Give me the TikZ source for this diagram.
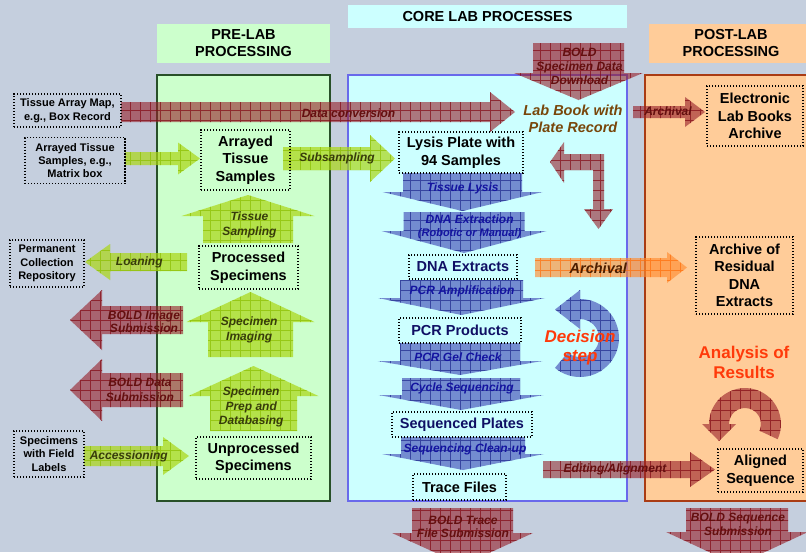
\documentclass[tikz,border=0pt]{standalone}
\usepackage{fontspec}
\setmainfont{Liberation Sans}
\usetikzlibrary{calc}

% palette
\definecolor{bg}{RGB}{197,207,222}
\definecolor{prefill}{RGB}{204,255,204}
\definecolor{corefill}{RGB}{204,255,255}
\definecolor{postfill}{RGB}{255,204,153}
\definecolor{preedge}{RGB}{40,80,40}
\definecolor{coreedge}{RGB}{105,105,235}
\definecolor{postedge}{RGB}{170,60,20}
\definecolor{redfill}{RGB}{150,30,40}
\definecolor{redline}{RGB}{130,10,20}
\definecolor{greenfill}{RGB}{170,215,20}
\definecolor{greenline}{RGB}{140,190,0}
\definecolor{bluefill}{RGB}{100,120,200}
\definecolor{blueline}{RGB}{30,40,140}
\definecolor{orangefill}{RGB}{255,140,50}
\definecolor{orangeline}{RGB}{255,110,10}
\definecolor{redtxt}{RGB}{100,15,15}
\definecolor{greentxt}{RGB}{55,60,10}
\definecolor{bluetxt}{RGB}{20,20,160}
\definecolor{navytxt}{RGB}{15,15,100}
\definecolor{booktxt}{RGB}{120,70,10}
\definecolor{browntxt}{RGB}{75,30,0}
\definecolor{hot}{RGB}{255,58,10}

% block arrow: style, tail, tip, half body width, half head width, head length
\newcommand\blockarrow[6]{%
  \coordinate (bam) at ($(#3)!#6!(#2)$);
  \path[#1] ($(#2)!#4!90:(#3)$) -- ($(bam)!#4!-90:(#2)$) -- ($(bam)!#5!-90:(#2)$) -- (#3)
    -- ($(bam)!#5!90:(#2)$) -- ($(bam)!#4!90:(#2)$) -- ($(#2)!#4!-90:(#3)$) -- cycle;}

\tikzset{
  gridfill/.style n args={3}{fill=#1, fill opacity=#3,
    path picture={\draw[#2, draw opacity=0.7, line width=0.6pt]
      (path picture bounding box.south west) grid[step=10pt] (path picture bounding box.north east);}},
  redarrow/.style={gridfill={redfill}{redline}{0.6}},
  greenarrow/.style={gridfill={greenfill}{greenline}{0.7}},
  bluearrow/.style={gridfill={bluefill}{blueline}{0.85}},
  orangearrow/.style={gridfill={orangefill}{orangeline}{0.65}},
  hdr/.style={align=center, inner sep=0pt, font=\bfseries\fontsize{14.5}{17}\selectfont},
  panel/.style={line width=1.3pt, inner sep=0pt},
  nb/.style={draw=black, line width=1.4pt, dash pattern=on 1.4pt off 1.6pt, align=center,
    inner sep=0pt, font=\bfseries\fontsize{14.5}{17.5}\selectfont},
  nbs/.style={nb, font=\bfseries\fontsize{11}{13.4}\selectfont},
  lbl/.style={align=center, inner sep=0pt, font=\bfseries\itshape\fontsize{12}{14.5}\selectfont},
  redlbl/.style={lbl, text=redtxt},
  greenlbl/.style={lbl, text=greentxt},
  bluelbl/.style={lbl, text=bluetxt},
}

\begin{document}
\begin{tikzpicture}[x=1pt,y=-1pt]
\useasboundingbox (0,0) rectangle (806,552);
\clip (0,0) rectangle (806,552);
\fill[bg] (0,0) rectangle (806,552);

% column headers
\node[hdr, fill=prefill, minimum width=173pt, minimum height=39pt] (prehdr) at (243.5,43.5) {PRE-LAB\\PROCESSING};
\node[hdr, fill=corefill, minimum width=279pt, minimum height=23pt] (corehdr) at (487.5,16.5) {CORE LAB PROCESSES};
\node[hdr, fill=postfill, minimum width=164pt, minimum height=39pt] (posthdr) at (731,43.5) {POST-LAB\\PROCESSING};

% column panels
\node[panel, draw=preedge, fill=prefill, minimum width=173pt, minimum height=426pt] (prepanel) at (243.5,288) {};
\node[panel, draw=coreedge, fill=corefill, minimum width=279pt, minimum height=426pt] (corepanel) at (487.5,288) {};
\node[panel, draw=postedge, fill=postfill, minimum width=172pt, minimum height=426pt] (postpanel) at (731,288) {};

% arrow end points
\coordinate (dc-a) at (121,112);   \coordinate (dc-b) at (515,112);
\coordinate (bsd-a) at (578.5,43); \coordinate (bsd-b) at (578.5,100);
\coordinate (ar1-a) at (633,112);  \coordinate (ar1-b) at (705,112);
\coordinate (bis-a) at (183,320);  \coordinate (bis-b) at (70,320);
\coordinate (bds-a) at (183,390);  \coordinate (bds-b) at (70,390);
\coordinate (ed-a) at (543,469.5); \coordinate (ed-b) at (715,469.5);
\coordinate (btf-a) at (462.5,508); \coordinate (btf-b) at (462.5,565);
\coordinate (bss-a) at (737,508);  \coordinate (bss-b) at (737,565);
\coordinate (arr-a) at (125,158.5); \coordinate (arr-b) at (200,158.5);
\coordinate (sub-a) at (283,158.5); \coordinate (sub-b) at (395,158.5);
\coordinate (ts-a) at (248,243);   \coordinate (ts-b) at (248,195);
\coordinate (lo-a) at (187,262);   \coordinate (lo-b) at (85,262);
\coordinate (si-a) at (250.5,357); \coordinate (si-b) at (250.5,292);
\coordinate (sp-a) at (253.5,431); \coordinate (sp-b) at (253.5,366);
\coordinate (ac-a) at (84,456);    \coordinate (ac-b) at (189,456);
\coordinate (tl-a) at (462.5,173); \coordinate (tl-b) at (462.5,211);
\coordinate (dx-a) at (464,212);   \coordinate (dx-b) at (464,253);
\coordinate (pa-a) at (461.5,280); \coordinate (pa-b) at (461.5,315);
\coordinate (gc-a) at (460,343);   \coordinate (gc-b) at (460,375);
\coordinate (cs-a) at (461,378);   \coordinate (cs-b) at (461,410);
\coordinate (sc-a) at (463,437);   \coordinate (sc-b) at (463,470);
\coordinate (ar2-a) at (535,267.5); \coordinate (ar2-b) at (687,267.5);

% data flow arrows (red)
\blockarrow{redarrow}{dc-a}{dc-b}{10pt}{20pt}{25pt}
\blockarrow{redarrow}{bsd-a}{bsd-b}{45.5pt}{64.5pt}{27pt}
\blockarrow{redarrow}{ar1-a}{ar1-b}{6pt}{15pt}{20pt}
\blockarrow{redarrow}{bis-a}{bis-b}{14pt}{30pt}{32pt}
\blockarrow{redarrow}{bds-a}{bds-b}{17pt}{31pt}{32pt}
\blockarrow{redarrow}{ed-a}{ed-b}{8.5pt}{17.5pt}{25pt}
\blockarrow{redarrow}{btf-a}{btf-b}{50.5pt}{70.5pt}{32pt}
\blockarrow{redarrow}{bss-a}{bss-b}{51pt}{71pt}{33pt}
% plate record exchange (bent arrow)
\path[redarrow] (550,162) -- (564,142) -- (564,154) -- (604,154) -- (604,209) -- (613,209)
  -- (598.5,229) -- (584,209) -- (593,209) -- (593,170) -- (564,170) -- (564,183) -- cycle;
% analysis loop
\path[redarrow] (745,424) ++(25:36) arc[start angle=25, end angle=-180, radius=36]
  -- (702,424) -- (719,441) -- (736,424) -- (729,424)
  arc[start angle=-180, end angle=25, radius=16] -- cycle;

% specimen handling arrows (green)
\blockarrow{greenarrow}{arr-a}{arr-b}{6.5pt}{16pt}{22pt}
\blockarrow{greenarrow}{sub-a}{sub-b}{11.5pt}{23.5pt}{25pt}
\blockarrow{greenarrow}{ts-a}{ts-b}{45pt}{66.5pt}{21pt}
\blockarrow{greenarrow}{lo-a}{lo-b}{9pt}{18pt}{25pt}
\blockarrow{greenarrow}{si-a}{si-b}{42.5pt}{64pt}{30pt}
\blockarrow{greenarrow}{sp-a}{sp-b}{43.5pt}{65pt}{30pt}
\blockarrow{greenarrow}{ac-a}{ac-b}{10pt}{19pt}{26pt}

% lab steps (blue)
\blockarrow{bluearrow}{tl-a}{tl-b}{59.5pt}{80pt}{19pt}
\blockarrow{bluearrow}{dx-a}{dx-b}{60.5pt}{82.5pt}{22pt}
\blockarrow{bluearrow}{pa-a}{pa-b}{61.5pt}{83.5pt}{17pt}
\blockarrow{bluearrow}{gc-a}{gc-b}{60pt}{82.5pt}{14pt}
\blockarrow{bluearrow}{cs-a}{cs-b}{59pt}{82.5pt}{15pt}
\blockarrow{bluearrow}{sc-a}{sc-b}{62pt}{81pt}{16pt}
% decision loop
\path[bluearrow] (580,338) ++(130:39) arc[start angle=130, end angle=-90, radius=39]
  -- (580,290) -- (555,309.5) -- (580,329) -- (580,319)
  arc[start angle=-90, end angle=130, radius=19] -- cycle;

% residual extracts (orange)
\blockarrow{orangearrow}{ar2-a}{ar2-b}{9.5pt}{15.5pt}{20pt}

% items
\node[nbs, minimum width=107pt, minimum height=33pt] (tam) at (67.5,110.5) {Tissue Array Map,\\e.g., Box Record};
\node[nbs, minimum width=100pt, minimum height=46pt] (ats) at (75,160.5) {Arrayed Tissue\\Samples, e.g.,\\Matrix box};
\node[nb, minimum width=89pt, minimum height=60pt] (atsbig) at (245.5,160) {Arrayed\\Tissue\\Samples};
\node[nb, minimum width=124pt, minimum height=41pt] (lysis) at (461,152.5) {Lysis Plate with\\94 Samples};
\node[nb, minimum width=96pt, minimum height=60pt] (elba) at (755,116) {Electronic\\Lab Books\\Archive};
\node[nbs, minimum width=74pt, minimum height=47pt] (pcrep) at (47,263.5) {Permanent\\Collection\\Repository};
\node[nb, minimum width=99pt, minimum height=43pt] (procspec) at (248.5,267.5) {Processed\\Specimens};
\node[nb, text=navytxt, minimum width=108pt, minimum height=24pt] (dnaext) at (463,267) {DNA Extracts};
\node[nb, minimum width=97pt, minimum height=77pt] (ardna) at (744.5,275.5) {Archive of\\Residual\\DNA\\Extracts};
\node[nb, text=navytxt, minimum width=122pt, minimum height=25pt] (pcrprod) at (460,330.5) {PCR Products};
\node[nb, text=navytxt, minimum width=140pt, minimum height=25pt] (seqpl) at (462,424.5) {Sequenced Plates};
\node[nb, minimum width=93pt, minimum height=26pt] (trace) at (459.5,487) {Trace Files};
\node[nb, minimum width=85pt, minimum height=43pt] (aligned) at (760.5,470.5) {Aligned\\Sequence};
\node[nbs, minimum width=70pt, minimum height=46pt] (swfl) at (49,454) {Specimens\\with Field\\Labels};
\node[nb, minimum width=115pt, minimum height=42pt] (unproc) at (253.5,458) {Unprocessed\\Specimens};

% free-standing texts
\node[lbl, text=booktxt, font=\bfseries\itshape\fontsize{14.5}{16.7}\selectfont] (labbook) at (573,118.5) {Lab Book with\\Plate Record};
\node[lbl, text=hot, font=\bfseries\itshape\fontsize{17}{19}\selectfont] (decision) at (580,347.5) {Decision\\step};
\node[lbl, text=hot, font=\bfseries\fontsize{17}{20}\selectfont] (analysis) at (744,362) {Analysis of\\Results};

% arrow captions
\node[redlbl] (l-dc) at (348.5,113) {Data conversion};
\node[redlbl, font=\bfseries\itshape\fontsize{12}{14.3}\selectfont] (l-bsd) at (579.5,66.5) {BOLD\\Specimen Data\\Download};
\node[redlbl] (l-ar1) at (668,111.5) {Archival};
\node[redlbl, font=\bfseries\itshape\fontsize{12}{13.4}\selectfont] (l-bis) at (144,321.7) {BOLD Image\\Submission};
\node[redlbl, font=\bfseries\itshape\fontsize{12}{15}\selectfont] (l-bds) at (140,390.2) {BOLD Data\\Submission};
\node[redlbl] (l-ed) at (615,469.5) {Editing/Alignment};
\node[redlbl, font=\bfseries\itshape\fontsize{12}{13.4}\selectfont] (l-btf) at (463,526.7) {BOLD Trace\\File Submission};
\node[redlbl, font=\bfseries\itshape\fontsize{12}{14}\selectfont] (l-bss) at (738,524.7) {BOLD Sequence\\Submission};

\node[greenlbl] (l-sub) at (337,158.5) {Subsampling};
\node[greenlbl, font=\bfseries\itshape\fontsize{12}{15}\selectfont] (l-ts) at (249.5,225.2) {Tissue\\Sampling};
\node[greenlbl] (l-lo) at (139.3,262) {Loaning};
\node[greenlbl, font=\bfseries\itshape\fontsize{12}{15}\selectfont] (l-si) at (249.2,330.2) {Specimen\\Imaging};
\node[greenlbl, font=\bfseries\itshape\fontsize{12}{14.5}\selectfont] (l-sp) at (251.2,407.2) {Specimen\\Prep and\\Databasing};
\node[greenlbl] (l-ac) at (128.8,456) {Accessioning};

\node[bluelbl] (l-tl) at (462.7,188.5) {Tissue Lysis};
\node[bluelbl, font=\bfseries\itshape\fontsize{12}{13.3}\selectfont] (l-dx) at (469.6,226.7) {DNA Extraction\\\fontsize{11}{13.3}\selectfont(Robotic or Manual)};
\node[bluelbl] (l-pa) at (462,291) {PCR Amplification};
\node[bluelbl] (l-gc) at (458,357) {PCR Gel Check};
\node[bluelbl] (l-cs) at (462,388) {Cycle Sequencing};
\node[bluelbl] (l-sc) at (465,449.3) {Sequencing Clean-up};

\node[lbl, text=browntxt, font=\bfseries\itshape\fontsize{14.5}{17}\selectfont] (l-ar2) at (598.3,268.5) {Archival};
\end{tikzpicture}
\end{document}
